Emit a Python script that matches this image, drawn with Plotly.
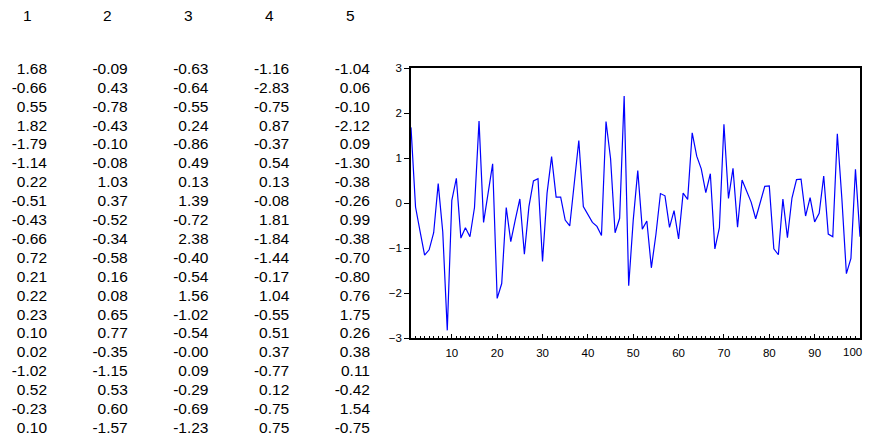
import plotly.graph_objects as go

# Table data: 20 rows x 5 columns (read row-wise, these form the 100-point series)
col_headers = ["1", "2", "3", "4", "5"]
rows = [
    [1.68, -0.09, -0.63, -1.16, -1.04],
    [-0.66, 0.43, -0.64, -2.83, 0.06],
    [0.55, -0.78, -0.55, -0.75, -0.10],
    [1.82, -0.43, 0.24, 0.87, -2.12],
    [-1.79, -0.10, -0.86, -0.37, 0.09],
    [-1.14, -0.08, 0.49, 0.54, -1.30],
    [0.22, 1.03, 0.13, 0.13, -0.38],
    [-0.51, 0.37, 1.39, -0.08, -0.26],
    [-0.43, -0.52, -0.72, 1.81, 0.99],
    [-0.66, -0.34, 2.38, -1.84, -0.38],
    [0.72, -0.58, -0.40, -1.44, -0.70],
    [0.21, 0.16, -0.54, -0.17, -0.80],
    [0.22, 0.08, 1.56, 1.04, 0.76],
    [0.23, 0.65, -1.02, -0.55, 1.75],
    [0.10, 0.77, -0.54, 0.51, 0.26],
    [0.02, -0.35, -0.00, 0.37, 0.38],
    [-1.02, -1.15, 0.09, -0.77, 0.11],
    [0.52, 0.53, -0.29, 0.12, -0.42],
    [-0.23, 0.60, -0.69, -0.75, 1.54],
    [0.10, -1.57, -1.23, 0.75, -0.75],
]
x_ticks = [10, 20, 30, 40, 50, 60, 70, 80, 90, 100]
y_ticks = [-3, -2, -1, 0, 1, 2, 3]

# The page body has an 8px margin and the visible area ends ~8px before the
# window edge, so the figure is sized/positioned to compensate.
OFF = 8
WIN_W, WIN_H = 872, 444
W, H = WIN_W - 2 * OFF, WIN_H - 2 * OFF
FONT = "Liberation Sans, Arial, Helvetica, sans-serif"


def px(p):
    return (p - OFF) / W


def py(p):
    return 1 - (p - OFF) / H


series = [v for r in rows for v in r]
obs = list(range(1, len(series) + 1))

fig = go.Figure()

# Table text as a text-scatter on its own hidden axes
tx, ty, tt = [], [], []
for ri, r in enumerate(rows):
    for ci, v in enumerate(r):
        tx.append(ci + 1)
        ty.append(ri + 1)
        tt.append(f"{v:.2f}")
fig.add_trace(go.Scatter(
    x=tx, y=ty, text=tt, mode="text", textposition="middle left",
    textfont=dict(family=FONT, size=15.5, color="black"),
    xaxis="x2", yaxis="y2", hoverinfo="skip", showlegend=False, cliponaxis=False,
))
for ci, h in enumerate(col_headers):
    fig.add_annotation(
        x=ci + 1, y=1, xref="x2", yref="y2", text=h, showarrow=False,
        xanchor="center", yanchor="middle", xshift=-20, yshift=55,
        font=dict(family=FONT, size=15.5, color="black"),
    )

# Line chart
fig.add_trace(go.Scatter(
    x=obs, y=series, mode="lines",
    line=dict(color="#0000ff", width=1.2),
    showlegend=False,
))

# Last x tick label drawn as an annotation so it stays inside the visible area
x_ticktext = [str(v) for v in x_ticks[:-1]] + [""]
fig.add_annotation(
    x=x_ticks[-1], y=y_ticks[0], xref="x", yref="y", text=str(x_ticks[-1]),
    showarrow=False, xanchor="right", yanchor="middle", xshift=4, yshift=-14,
    font=dict(family=FONT, size=11.5, color="black"),
)

# table geometry (window pixels): row1 at y=70, row20 at y=429; col1 right edge 47, col5 370
row1_y, row20_y = 70, 429
row_px = (row20_y - row1_y) / 19.0
y2_top = 1 - (row1_y - OFF) / row_px
y2_bot = 1 + (OFF + H - row1_y) / row_px
col1_x, col5_x = 47, 370
col_px = (col5_x - col1_x) / 4.0
TBL_R = 380
x2_left = 1 - (col1_x - OFF) / col_px
x2_right = 1 + (TBL_R - col1_x) / col_px

fig.update_layout(
    width=W, height=H,
    margin=dict(l=0, r=0, t=0, b=0),
    paper_bgcolor="white", plot_bgcolor="white",
    showlegend=False,
    font=dict(family=FONT, color="black"),
    xaxis=dict(
        domain=[px(411), px(860)], range=[1, 100],
        tickmode="array", tickvals=x_ticks, ticktext=x_ticktext,
        ticks="inside", ticklen=4, tickcolor="black", tickwidth=1,
        minor=dict(dtick=1, tick0=0, ticks="inside", ticklen=2.5, tickcolor="black", tickwidth=1, showgrid=False),
        showline=True, linecolor="black", linewidth=1.5, mirror=True,
        showgrid=False, zeroline=False, automargin=False,
        ticklabelstandoff=3, ticklabeloverflow="allow",
        tickfont=dict(family=FONT, size=11.5, color="black"),
        fixedrange=True,
    ),
    yaxis=dict(
        domain=[py(338), py(68)], range=[-3, 3],
        tickmode="array", tickvals=y_ticks,
        ticks="outside", ticklen=5, tickcolor="black", tickwidth=1,
        showline=True, linecolor="black", linewidth=1.5, mirror=True,
        showgrid=False, zeroline=False, automargin=False,
        ticklabeloverflow="allow",
        tickfont=dict(family=FONT, size=11.5, color="black"),
        fixedrange=True,
    ),
    xaxis2=dict(domain=[0, px(TBL_R)], range=[x2_left, x2_right], visible=False,
                anchor="y2", fixedrange=True),
    yaxis2=dict(domain=[0, 1], range=[y2_bot, y2_top], visible=False,
                anchor="x2", fixedrange=True),
)

fig.write_html("out.html")
